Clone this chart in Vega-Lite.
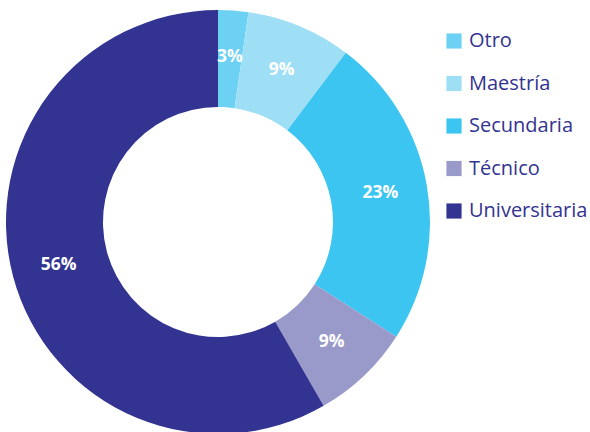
{
  "$schema": "https://vega.github.io/schema/vega-lite/v6.json",
  "width": 436,
  "height": 444,
  "autosize": {"type": "none"},
  "padding": {"left": 0, "top": 0, "right": 154, "bottom": 0},
  "background": "white",
  "config": {"view": {"stroke": null}},
  "data": {
    "values": [
      {"cat": "Otro", "value": 2.3, "label": "3%", "ord": 1},
      {"cat": "Maestría", "value": 8.0, "label": "9%", "ord": 2},
      {"cat": "Secundaria", "value": 23.8, "label": "23%", "ord": 3},
      {"cat": "Técnico", "value": 7.6, "label": "9%", "ord": 4},
      {"cat": "Universitaria", "value": 58.3, "label": "56%", "ord": 5}
    ]
  },
  "encoding": {
    "theta": {"field": "value", "type": "quantitative", "stack": true},
    "order": {"field": "ord", "type": "quantitative"},
    "color": {
      "field": "cat",
      "type": "nominal",
      "scale": {
        "domain": ["Otro", "Maestría", "Secundaria", "Técnico", "Universitaria"],
        "range": ["#6dd1f4", "#9fdff6", "#3cc5f0", "#9a9aca", "#333391"]
      },
      "legend": {
        "orient": "none",
        "legendX": 444,
        "legendY": 31,
        "title": null,
        "symbolType": "square",
        "symbolSize": 230,
        "symbolStrokeWidth": 0,
        "rowPadding": 22.5,
        "labelFontSize": 20,
        "labelFont": "Open Sans",
        "labelColor": "#333391",
        "labelOffset": 5,
        "labelLimit": 200
      }
    }
  },
  "layer": [
    {"mark": {"type": "arc", "innerRadius": 115, "outerRadius": 212}},
    {
      "mark": {"type": "text", "radius": 165, "fontSize": 17.5, "fontWeight": "bold", "font": "Open Sans", "fill": "white"},
      "encoding": {
        "text": {"field": "label"},
        "color": {"value": "white"}
      }
    }
  ]
}
